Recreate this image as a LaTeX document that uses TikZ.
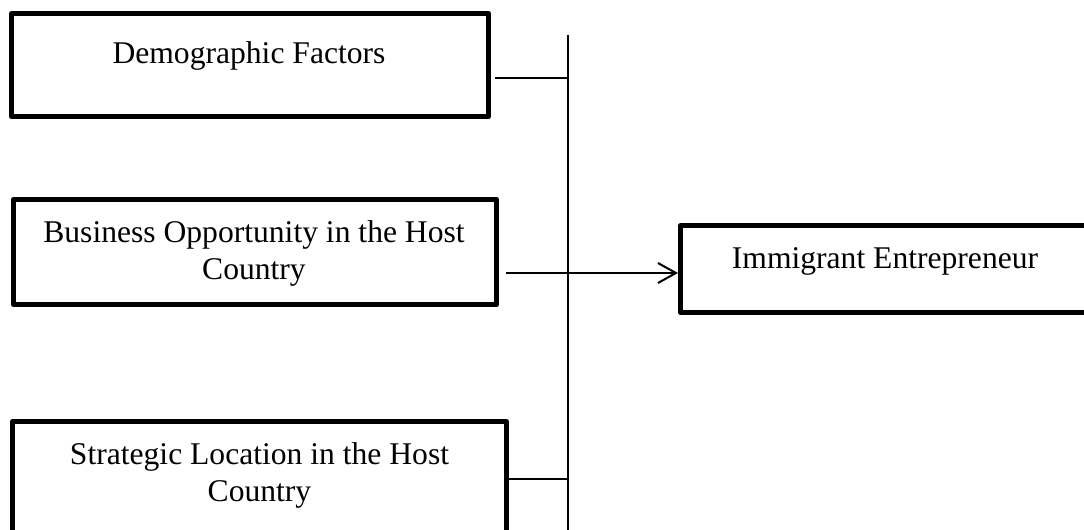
\documentclass[tikz,border=0pt]{standalone}
\usepackage{fontspec}
\setmainfont{Liberation Serif}
\usetikzlibrary{arrows.meta}

\tikzset{
    factor/.style={draw, line width=3.75pt, line join=round, inner sep=0pt},
    caption/.style={font=\fontsize{23.7}{27.75}\selectfont, align=center, inner sep=0pt},
    link/.style={line width=1.5pt},
    leadsto/.style={link, -{Straight Barb[length=13.5pt, width=15pt]}}
}

\begin{document}
\begin{tikzpicture}[x=0.75pt, y=-0.75pt]
            \useasboundingbox (0,0) rectangle (1084,530);

            % 左侧三个因素框
            \node[factor, minimum width=357.75pt, minimum height=77.25pt] (demo) at (250,65) {};
            \node[factor, minimum width=362.25pt, minimum height=78.75pt] (opp) at (255,252) {};
            \node[factor, minimum width=370.5pt, minimum height=88.9pt] (loc) at (259.5,480.75) {};

            % 右侧结果框
            \node[factor, minimum width=306.75pt, minimum height=65.25pt] (immi) at (885,269) {};

            % 框内文字
            \node[caption] (demotext) at (249,55.5) {Demographic Factors};
            \node[caption] (opptext) at (254,253) {Business Opportunity in the Host\\Country};
            \node[caption] (loctext) at (259.5,475.5) {Strategic Location in the Host\\Country};
            \node[caption] (immitext) at (885,261.5) {Immigrant Entrepreneur};

            % 竖线及交点
            \coordinate (trunktop) at (568,35);
            \coordinate (trunkbot) at (568,540);
            \coordinate (j1) at (568,78);
            \coordinate (j2) at (568,273);
            \coordinate (j3) at (568,479);
            \draw[link] (trunktop) -- (trunkbot);

            % 各框连到竖线, 中间箭头指向结果
            \draw[link, shorten <=3pt] (j1 -| demo.east) -- (j1);
            \draw[leadsto, shorten <=5.25pt] (j2 -| opp.east) -- (j2 -| immi.west);
            \draw[link] (j3 -| loc.east) -- (j3);
        \end{tikzpicture}
\end{document}
